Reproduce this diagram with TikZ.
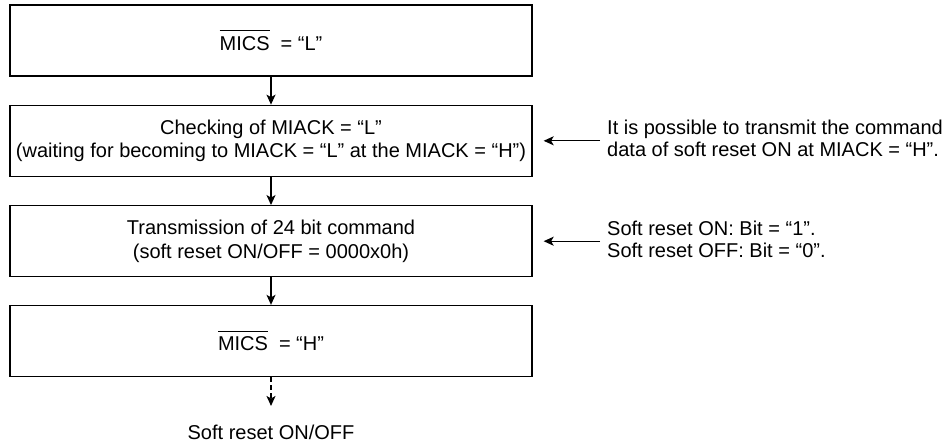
\documentclass[tikz,border=0pt]{standalone}
\usepackage{fontspec}
\setmainfont{Liberation Sans}
\usetikzlibrary{arrows.meta}
\newcommand\ovl[1]{\vbox{\hrule height 1.1pt\kern 5pt\hbox{#1}}}
\begin{document}
\begin{tikzpicture}[x=1pt,y=-1pt,
  box/.style={draw, line width=1.3pt, minimum width=522pt, minimum height=71pt,
    inner sep=0pt, align=center, font=\fontsize{20}{23.5}\selectfont},
  txt/.style={inner sep=0pt, align=center, font=\fontsize{20}{23.5}\selectfont},
  note/.style={anchor=west, inner sep=0pt, align=left, font=\fontsize{20}{22}\selectfont},
  arr/.style={line width=1.3pt, -{Stealth[length=10pt,width=9pt,inset=2.5pt]}}]
\useasboundingbox (0,0) rectangle (946,445);
\node[box] (b1) at (271,40.5) {\ovl{MICS}\hspace{11pt}= “L”};
\node[box] (b2) at (271,140.8) {Checking of MIACK = “L”\\(waiting for becoming to MIACK = “L” at the MIACK = “H”)};
\node[box] (b3) at (271,241.2) {Transmission of 24 bit command\\(soft reset ON/OFF = 0000x0h)};
\node[box] (b4) at (271,341) {\ovl{MICS}\hspace{11pt}= “H”};
\node[txt] (end) at (271,432) {Soft reset ON/OFF};
\node[note] (n1) at (607,138) {It is possible to transmit the command\\data of soft reset ON at MIACK = “H”.};
\node[note] (n2) at (607,239) {Soft reset ON: Bit = “1”.\\Soft reset OFF: Bit = “0”.};
\draw[arr] (b1) -- (b2);
\draw[arr] (b2) -- (b3);
\draw[arr] (b3) -- (b4);
\draw[arr, dash pattern=on 5pt off 3pt] (b4) -- ([yshift=18.5pt]end.north);
\path (n1.west) ++(-7,0) coordinate (t1);
\path (n2.west) ++(-7,0) coordinate (t2);
\draw[arr] (t1 |- b2.east) -- ([xshift=11pt]b2.east);
\draw[arr] (t2 |- b3.east) -- ([xshift=11pt]b3.east);
\end{tikzpicture}
\end{document}
